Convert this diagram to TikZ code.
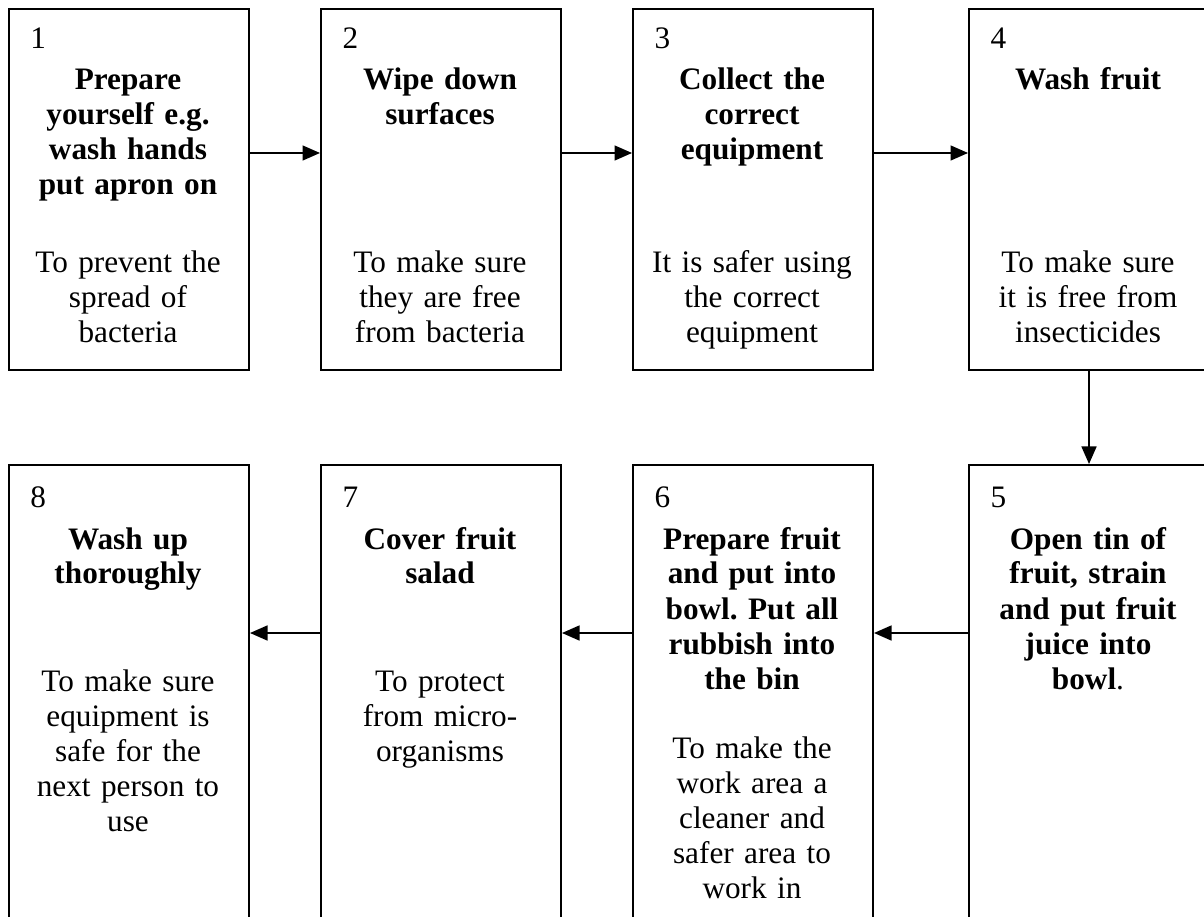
\documentclass[tikz,border=0pt]{standalone}
\usepackage{fontspec}
\setmainfont{Liberation Serif}
\usetikzlibrary{positioning,arrows.meta}
\frenchspacing

\begin{document}
\begin{tikzpicture}[
      x=0.4pt, y=-0.4pt,
      stepbox/.style={draw, line width=0.8pt, minimum width=96pt, inner sep=0pt, anchor=north west},
      topbox/.style={stepbox, minimum height=144.4pt},
      lowbox/.style={stepbox, minimum height=186.4pt},
      txt/.style={text width=90pt, align=center, inner sep=0pt, anchor=base,
                  font=\fontsize{12.5pt}{14pt}\selectfont},
      arr/.style={line width=0.6pt, -{Triangle[length=7pt, width=6pt]}},
    ]
    \clip (0,0) rectangle (1204,917);
    % top row
    \node[topbox] (b1) at (8,8) {};
    \node[topbox] (b2) at (320,8) {};
    \node[topbox] (b3) at (632,8) {};
    \node[topbox] (b4) at (968,8) {};
    % bottom row
    \node[lowbox] (b8) at (8,464) {};
    \node[lowbox] (b7) at (320,464) {};
    \node[lowbox] (b6) at (632,464) {};
    \node[lowbox] (b5) at (968,464) {};

    \node[txt] (h1) at (128,49) {\makebox[\linewidth][l]{\hspace{6pt}1}\\[2.4pt] \bfseries Prepare\\ yourself e.g.\\ wash hands\\ put apron on};
    \node[txt] (n1) at (128,273) {To prevent the\\ spread of\\ bacteria};
    \node[txt] (h2) at (440,49) {\makebox[\linewidth][l]{\hspace{6pt}2}\\[2.4pt] \bfseries Wipe down\\ surfaces};
    \node[txt] (n2) at (440,273) {To make sure\\ they are free\\ from bacteria};
    \node[txt] (h3) at (752,49) {\makebox[\linewidth][l]{\hspace{6pt}3}\\[2.4pt] \bfseries Collect the\\ correct\\ equipment};
    \node[txt] (n3) at (752,273) {It is safer using\\ the correct\\ equipment};
    \node[txt] (h4) at (1088,49) {\makebox[\linewidth][l]{\hspace{6pt}4}\\[2.4pt] \bfseries Wash fruit};
    \node[txt] (n4) at (1088,273) {To make sure\\ it is free from\\ insecticides};

    \node[txt] (h5) at (1088,508) {\makebox[\linewidth][l]{\hspace{6pt}5}\\[2.4pt] \bfseries Open tin of\\ fruit, strain\\ and put fruit\\ juice into\\ bowl{\mdseries .}};
    \node[txt] (h6) at (752,508) {\makebox[\linewidth][l]{\hspace{6pt}6}\\[2.4pt] \bfseries Prepare fruit\\ and put into\\ bowl. Put all\\ rubbish into\\ the bin};
    \node[txt] (n6) at (752,758) {To make the\\ work area a\\ cleaner and\\ safer area to\\ work in};
    \node[txt] (h7) at (440,508) {\makebox[\linewidth][l]{\hspace{6pt}7}\\[2.4pt] \bfseries Cover fruit\\ salad};
    \node[txt] (n7) at (440,691) {To protect\\ from micro-\\ organisms};
    \node[txt] (h8) at (128,508) {\makebox[\linewidth][l]{\hspace{6pt}8}\\[2.4pt] \bfseries Wash up\\ thoroughly};
    \node[txt] (n8) at (128,691) {To make sure\\ equipment is\\ safe for the\\ next person to\\ use};

    \draw[arr] ([yshift=-58pt]b1.north east) -- ([yshift=-58pt]b2.north west);
    \draw[arr] ([yshift=-58pt]b2.north east) -- ([yshift=-58pt]b3.north west);
    \draw[arr] ([yshift=-58pt]b3.north east) -- ([yshift=-58pt]b4.north west);
    \draw[arr] (b4.south) -- (b5.north);
    \draw[arr] ([yshift=-67.6pt]b5.north west) -- ([yshift=-67.6pt]b6.north east);
    \draw[arr] ([yshift=-67.6pt]b6.north west) -- ([yshift=-67.6pt]b7.north east);
    \draw[arr] ([yshift=-67.6pt]b7.north west) -- ([yshift=-67.6pt]b8.north east);
  \end{tikzpicture}
\end{document}
